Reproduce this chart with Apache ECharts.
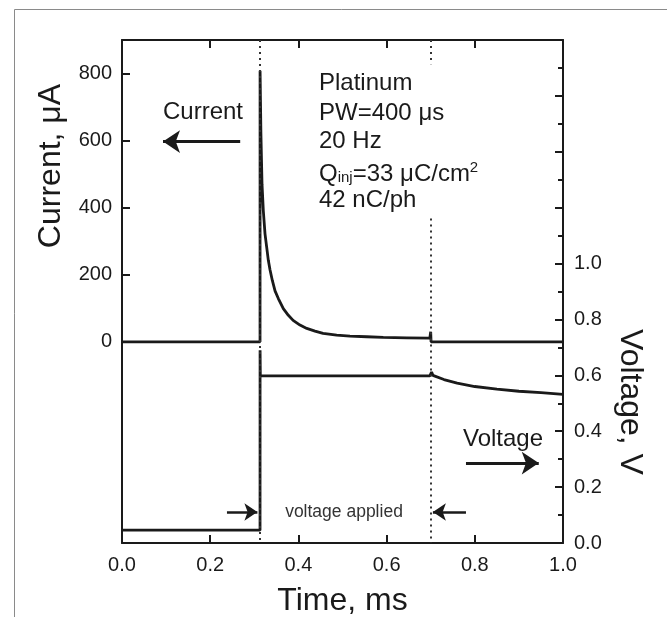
<!DOCTYPE html>
<html>
<head>
<meta charset="utf-8">
<script src="https://cdn.jsdelivr.net/npm/echarts@6/dist/echarts.min.js"></script>
<style>html,body{margin:0;padding:0;background:#fff}#c{width:667px;height:617px}</style>
</head>
<body>
<div id="c"></div>
<script>
// ---- data ----
const currentTime = [0, 0.313, 0.3131, 0.315, 0.3175, 0.3205, 0.3243, 0.328, 0.3318, 0.3356, 0.3409, 0.347, 0.3545, 0.3658, 0.3772, 0.388, 0.4036, 0.419, 0.4376, 0.456, 0.4868, 0.517, 0.5548, 0.5925, 0.6455, 0.698, 0.7, 0.7008, 0.72, 0.8, 0.9, 1.0];
const currentValues = [0, 0, 808, 620, 470, 390, 322, 283, 243, 215, 183, 152, 129, 99, 79, 64, 50, 40, 32, 25, 20, 17, 15, 13, 12, 11, 30, 0, 0, 0, 0, 0];
const voltageTime = [0, 0.313, 0.3131, 0.3137, 0.698, 0.7, 0.702, 0.705, 0.73, 0.76, 0.8, 0.85, 0.9, 0.95, 1.0];
const voltageValues = [0.046, 0.046, 0.69, 0.598, 0.598, 0.598, 0.612, 0.6, 0.585, 0.572, 0.56, 0.551, 0.543, 0.538, 0.532];
const xTickLabels = ['0.0', '0.2', '0.4', '0.6', '0.8', '1.0'];
const currentTicks = [0, 200, 400, 600, 800];
const voltageTicks = [0, 0.2, 0.4, 0.6, 0.8, 1.0];
const pulseStart = 0.313;
const pulseEnd = 0.70;
const infoLines = ['Platinum', 'PW=400 μs', '20 Hz', 'Qinj', '42 nC/ph'];

const FONT = '"Liberation Sans", Arial, Helvetica, sans-serif';
const INK = '#1a1a1a';
const chart = echarts.init(document.getElementById('c'), null, {renderer: 'canvas'});

const curData = currentTime.map((t, i) => [t, currentValues[i]]);
const volData = voltageTime.map((t, i) => [t, voltageValues[i]]);
const dotted = {color: '#333', width: 2, type: [2, 4]};
const arrowBig = {color: INK, width: 3, type: 'solid'};
const arrowSmall = {color: INK, width: 2.5, type: 'solid'};

const infoY = [83, 113, 141, 173, 200];
const infoGraphics = infoLines.map((s, i) => {
  const st = {x: 319, y: infoY[i], fill: INK, font: '24px ' + FONT, verticalAlign: 'middle', align: 'left'};
  if (s === 'Qinj') {
    st.text = '{a|Q}{sub|inj}{a|=33 μC/cm}{sup|2}';
    st.rich = {
      a: {fontSize: 24, fontFamily: FONT, fill: INK, verticalAlign: 'bottom'},
      sub: {fontSize: 15, fontFamily: FONT, fill: INK, padding: [0, 0, -10, 0]},
      sup: {fontSize: 15, fontFamily: FONT, fill: INK, padding: [0, 0, 11, 0]}
    };
    st.font = undefined;
  } else {
    st.text = s;
  }
  return {type: 'text', silent: true, style: st};
});

const option = {
  animation: false,
  backgroundColor: '#fff',
  grid: {left: 122, right: 104, top: 40, bottom: 74, containLabel: false, outerBoundsMode: 'none'},
  xAxis: [{
    type: 'value', min: 0, max: 1, interval: 0.2, position: 'bottom',
    axisLine: {show: true, onZero: false, lineStyle: {color: INK, width: 2}},
    axisTick: {show: true, inside: true, length: 8, lineStyle: {color: INK, width: 2}},
    axisLabel: {fontSize: 20, fontFamily: FONT, color: INK, margin: 12,
      formatter: (v) => xTickLabels[Math.round(v / 0.2)] || ''},
    splitLine: {show: false},
    name: 'Time, ms', nameLocation: 'middle', nameGap: 42,
    nameTextStyle: {fontSize: 32, fontFamily: FONT, color: INK}
  }, {
    type: 'value', min: 0, max: 1, interval: 0.2, position: 'top',
    axisLine: {show: true, onZero: false, lineStyle: {color: INK, width: 2}},
    axisTick: {show: true, inside: true, length: 8, lineStyle: {color: INK, width: 2}},
    axisLabel: {show: false}, splitLine: {show: false}
  }],
  yAxis: [{
    type: 'value', min: -600, max: 900, interval: 200, position: 'left',
    axisLine: {show: true, onZero: false, lineStyle: {color: INK, width: 2}},
    axisTick: {show: true, inside: true, length: 8, customValues: currentTicks, lineStyle: {color: INK, width: 2}},
    axisLabel: {fontSize: 20, fontFamily: FONT, color: INK, margin: 10, customValues: currentTicks},
    splitLine: {show: false}
  }, {
    type: 'value', min: 0, max: 1.8, interval: 0.2, position: 'right',
    axisLine: {show: true, onZero: false, lineStyle: {color: INK, width: 2}},
    axisTick: {show: true, inside: true, length: 8, lineStyle: {color: INK, width: 2}},
    minorTick: {show: true, splitNumber: 2, length: 5, lineStyle: {color: INK, width: 2}},
    axisLabel: {fontSize: 20, fontFamily: FONT, color: INK, margin: 11, customValues: voltageTicks,
      formatter: (v) => v.toFixed(1)},
    splitLine: {show: false}
  }],
  series: [{
    name: 'Current', type: 'line', xAxisIndex: 0, yAxisIndex: 0, data: curData,
    showSymbol: false, symbol: 'none', smooth: false,
    lineStyle: {color: INK, width: 2.8}, emphasis: {disabled: true}, z: 3,
    markLine: {
      silent: true, symbol: ['none', 'none'], label: {show: false}, animation: false,
      data: [
        [{coord: [pulseStart, 900], lineStyle: dotted}, {coord: [pulseStart, -600]}],
        [{coord: [pulseEnd, 900], lineStyle: dotted}, {coord: [pulseEnd, 828]}],
        [{coord: [pulseEnd, 368], lineStyle: dotted}, {coord: [pulseEnd, -600]}],
        [{coord: [0.268, 597], lineStyle: arrowBig, symbol: 'none'}, {coord: [0.093, 597], symbol: 'arrow', symbolSize: 17}]
      ]
    }
  }, {
    name: 'Voltage', type: 'line', xAxisIndex: 0, yAxisIndex: 1, data: volData,
    showSymbol: false, symbol: 'none', smooth: false,
    lineStyle: {color: INK, width: 2.8}, emphasis: {disabled: true}, z: 3,
    markLine: {
      silent: true, symbol: ['none', 'none'], label: {show: false}, animation: false,
      data: [
        [{coord: [0.78, 0.286], lineStyle: arrowBig, symbol: 'none'}, {coord: [0.945, 0.286], symbol: 'arrow', symbolSize: 17}],
        [{coord: [0.238, 0.111], lineStyle: arrowSmall, symbol: 'none'}, {coord: [0.307, 0.111], symbol: 'arrow', symbolSize: 13}],
        [{coord: [0.78, 0.111], lineStyle: arrowSmall, symbol: 'none'}, {coord: [0.705, 0.111], symbol: 'arrow', symbolSize: 13}]
      ]
    }
  }],
  graphic: [
    {type: 'rect', silent: true, shape: {x: 14.5, y: 9.5, width: 720, height: 720},
      style: {fill: 'none', stroke: '#8a8a8a', lineWidth: 1}},
    {type: 'text', silent: true, x: 51, y: 166, rotation: Math.PI / 2,
      style: {text: 'Current, μA', font: '32px ' + FONT, fill: INK, align: 'center', verticalAlign: 'middle'}},
    {type: 'text', silent: true, x: 630, y: 402, rotation: -Math.PI / 2,
      style: {text: 'Voltage, V', font: '32px ' + FONT, fill: INK, align: 'center', verticalAlign: 'middle'}},
    {type: 'text', silent: true, style: {text: 'Current', x: 203, y: 112, font: '24px ' + FONT, fill: INK, align: 'center', verticalAlign: 'middle'}},
    {type: 'text', silent: true, style: {text: 'Voltage', x: 503, y: 439, font: '24px ' + FONT, fill: INK, align: 'center', verticalAlign: 'middle'}},
    {type: 'text', silent: true, style: {text: 'voltage applied', x: 344, y: 512, font: '17.5px ' + FONT, fill: '#333', align: 'center', verticalAlign: 'middle'}}
  ].concat(infoGraphics)
};
chart.setOption(option);
</script>
</body>
</html>
